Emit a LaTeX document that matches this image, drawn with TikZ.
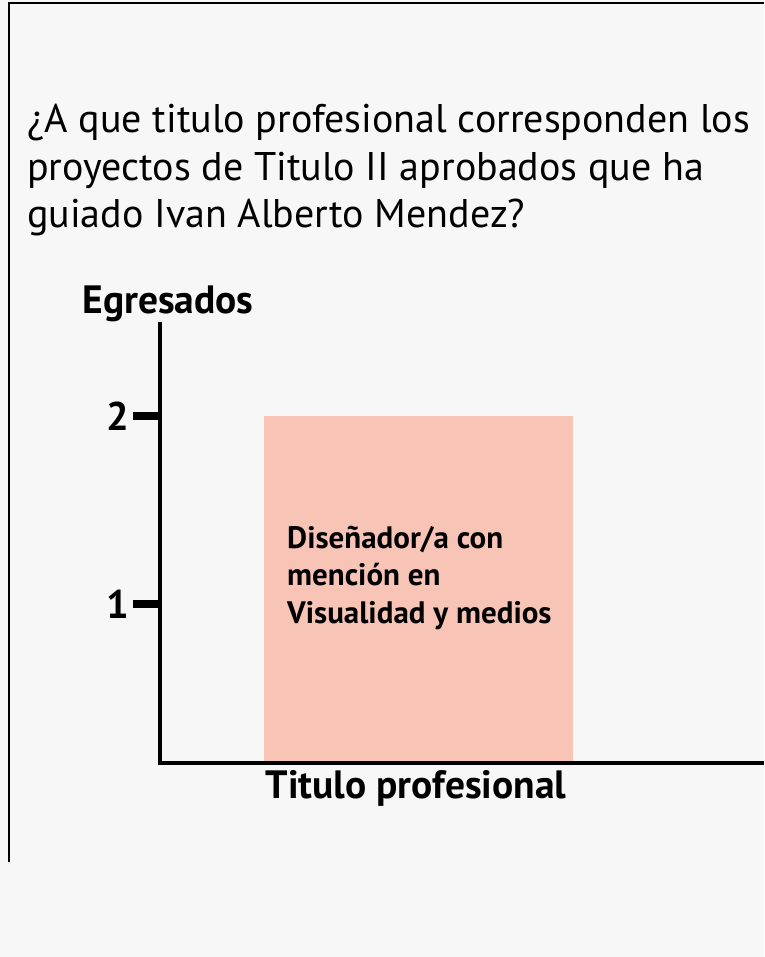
\documentclass[tikz,border=0pt]{standalone}
\usepackage{fontspec}
\setmainfont{PT Sans}
\definecolor{bg}{HTML}{F7F7F7}
\definecolor{barfill}{HTML}{F8C4B6}
\begin{document}
\begin{tikzpicture}[x=1pt,y=-1pt,
  frame/.style={line width=2pt,black},
  axis/.style={line width=4.5pt,black},
  tickmark/.style={line width=8pt,black},
  qtext/.style={font=\fontsize{40}{47.5}\selectfont,align=left,inner sep=0pt},
  axlabel/.style={font=\bfseries\fontsize{39.5}{42}\selectfont,inner sep=0pt},
  ticklabel/.style={font=\bfseries\fontsize{40}{42}\selectfont,inner sep=0pt},
  bartext/.style={font=\bfseries\fontsize{31}{37.5}\selectfont,align=left,inner sep=0pt}]
\fill[bg] (0,0) rectangle (764,957);
\useasboundingbox (0,0) rectangle (764,957);
% frame
\coordinate (fb) at (9,862);
\coordinate (ftl) at (9,3);
\coordinate (ftr) at (764,3);
\draw[frame] (fb) -- (ftl) -- (ftr);
% question
\node[qtext,anchor=base west] (q) at (27,228) {¿A que titulo profesional corresponden los\\proyectos de Titulo II aprobados que ha\\guiado Ivan Alberto Mendez?};
% bar
\fill[barfill] (264,416) rectangle (573,761);
\node[bartext,anchor=base west] (bt) at (287,623) {Diseñador/a con\\mención en\\Visualidad y medios};
% axes
\coordinate (ytop) at (160,322);
\coordinate (orig) at (160,763);
\coordinate (xend) at (764,763);
\draw[axis] (ytop) -- (orig) -- (xend);
% ticks
\coordinate (t2a) at (133,416);
\coordinate (t2b) at (160,416);
\coordinate (t1a) at (133,604);
\coordinate (t1b) at (160,604);
\draw[tickmark] (t2a) -- (t2b);
\draw[tickmark] (t1a) -- (t1b);
\node[ticklabel,anchor=east] (l2) at (129,416) {2};
\node[ticklabel,anchor=east] (l1) at (129,604) {1};
% axis labels
\node[axlabel,anchor=base] (ylab) at (168,313) {Egresados};
\node[axlabel,anchor=base] (xlab) at (416,798) {Titulo profesional};
\end{tikzpicture}
\end{document}
